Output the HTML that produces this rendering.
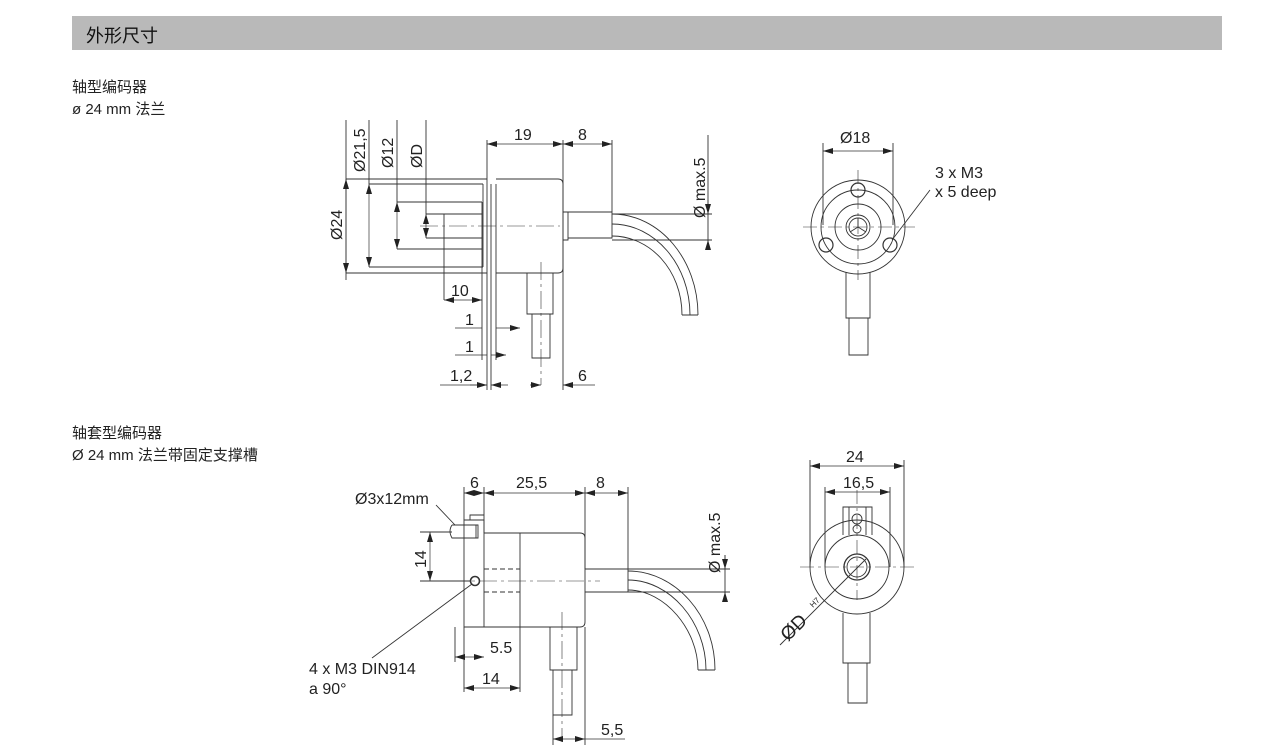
<!DOCTYPE html>
<html><head><meta charset="utf-8"><style>
body{margin:0;background:#fff;}
svg{display:block;font-family:"Liberation Sans","Noto Sans CJK SC",sans-serif;}
</style></head><body>
<svg width="1266" height="756" viewBox="0 0 1266 756" xmlns="http://www.w3.org/2000/svg">
<defs>
<marker id="a" viewBox="0 0 10 6" refX="10" refY="3" markerWidth="10" markerHeight="6" orient="auto-start-reverse" markerUnits="userSpaceOnUse"><path d="M0,0 L10,3 L0,6z" fill="#222"/></marker>
</defs>
<rect x="72" y="16" width="1150" height="34" fill="#b9b9b9"/>
<text x="86" y="42" font-size="18" fill="#111">外形尺寸</text>
<g font-size="15" fill="#222">
<text x="72" y="92">轴型编码器</text>
<text x="72" y="114">ø 24 mm 法兰</text>
<text x="72" y="438">轴套型编码器</text>
<text x="72" y="460">Ø 24 mm 法兰带固定支撑槽</text>
</g>
<g stroke="#333" stroke-width="0.9" fill="none">
<path d="M346,179 H487 M369,184 H483 M397,202 H482 M426,214 H444 M426,238 H444 M369,267 H483 M346,273 H487"/>
<path d="M482,202 V249 M397,249 H482 M487,179 V390 M491,184 V390 M496,184 V273 M483,184 V267"/>
<path d="M427,214 H482 M427,238 H482 M444,214 V300"/>
<path d="M496,179 H558 Q563,179 563,184 V268 Q563,273 558,273 H496"/>
<path d="M563,212 H568 V240 H563 M568,212 H612 V238 H568"/>
<path d="M612,214 C660,214 698,260 698,315 M612,224 C655,224 690,265 690,315 M612,236 C650,236 682,270 682,315 M682,315 H698"/>
<path d="M527,273 V314 H553 V273 M532,314 V358 H550 V314"/>
<path d="M420,226 H560" stroke-dasharray="18 4 3 4" stroke-width="0.6"/>
<path d="M541,262 V385" stroke-dasharray="18 4 3 4" stroke-width="0.6"/>
<path d="M563,140 V390 M612,140 V212 M487,140 V179 M346,120 V280 M369,120 V184 M397,120 V202 M426,120 V214 M708,135 V250 M612,240 H712 M612,214 H712 M482,249 V360 M496,273 V360"/>
<g stroke-width="0.7">
<path d="M346,179 V273" marker-start="url(#a)" marker-end="url(#a)"/>
<path d="M369,184 V267" marker-start="url(#a)" marker-end="url(#a)"/>
<path d="M397,202 V249" marker-start="url(#a)" marker-end="url(#a)"/>
<path d="M426,214 V238" marker-start="url(#a)" marker-end="url(#a)"/>
<path d="M487,144 H563" marker-start="url(#a)" marker-end="url(#a)"/>
<path d="M563,144 H612" marker-start="url(#a)" marker-end="url(#a)"/>
<path d="M444,300 H482" marker-start="url(#a)" marker-end="url(#a)"/>
<path d="M455,328 H482 M496,328 H520" marker-end="url(#a)"/>
<path d="M455,355 H487 M491,355 H506" marker-end="url(#a)"/>
<path d="M440,385 H487"/><path d="M470,385 H487" marker-end="url(#a)"/><path d="M508,385 H491" marker-end="url(#a)"/>
<path d="M530,385 H541" marker-end="url(#a)"/><path d="M595,385 H563" marker-end="url(#a)"/>
<path d="M708,200 V214" marker-end="url(#a)"/><path d="M708,250 V240" marker-end="url(#a)"/>
</g>
<circle cx="858" cy="227" r="47"/>
<circle cx="858" cy="227" r="37"/>
<circle cx="858" cy="227" r="23"/>
<circle cx="858" cy="227" r="12"/>
<circle cx="858" cy="227" r="9"/>
<circle cx="858" cy="190" r="7" stroke-width="1.2"/>
<circle cx="826" cy="245" r="7" stroke-width="1.2"/>
<circle cx="890" cy="245" r="7" stroke-width="1.2"/>
<path d="M858,227 V218 M858,227 L850,232 M858,227 L866,232"/>
<path d="M803,227 H915 M858,170 V280" stroke-dasharray="14 4 3 4" stroke-width="0.6"/>
<path d="M846,272 V318 H870 V272 M849,318 V355 H868 V318"/>
<path d="M823,143 V225 M893,143 V225"/>
<path d="M823,151 H893" stroke-width="0.7" marker-start="url(#a)" marker-end="url(#a)"/>
<path d="M930,190 L892,240"/>
<path d="M464,520 H484 V627 H464 Z M470,520 V515 H484 M476,525 V538"/>
<path d="M452,525 H478 V538 H452 Q448,531 452,525"/>
<path d="M484,533 H580 Q585,533 585,538 V622 Q585,627 580,627 H484 M520,533 V627"/>
<path d="M484,569 H520 M484,592 H520" stroke-dasharray="5 3"/>
<circle cx="475" cy="581" r="4.5" stroke-width="1.6"/>
<path d="M585,569 H628 V592 H585"/>
<path d="M628,571 C675,571 715,615 715,670 M628,580 C670,580 706,622 706,670 M628,590 C665,590 698,630 698,670 M698,670 H715"/>
<path d="M550,627 V670 H577 V627 M553,670 V715 H572 V670"/>
<path d="M450,581 H600" stroke-dasharray="18 4 3 4" stroke-width="0.6"/>
<path d="M562,612 V742" stroke-dasharray="18 4 3 4" stroke-width="0.6"/>
<path d="M464,487 V520 M484,487 V533 M585,487 V569 M628,487 V569 M420,532 H452 M420,581 H470 M725,555 V600 M628,569 H730 M628,592 H730 M455,627 V662 M464,627 V692 M520,627 V692 M585,627 V745 M553,715 V745"/>
<g stroke-width="0.7">
<path d="M464,493 H484" marker-start="url(#a)" marker-end="url(#a)"/>
<path d="M484,493 H585" marker-start="url(#a)" marker-end="url(#a)"/>
<path d="M585,493 H628" marker-start="url(#a)" marker-end="url(#a)"/>
<path d="M430,532 V581" marker-start="url(#a)" marker-end="url(#a)"/>
<path d="M455,657 H484" marker-start="url(#a)" marker-end="url(#a)"/>
<path d="M464,688 H520" marker-start="url(#a)" marker-end="url(#a)"/>
<path d="M553,739 H585" marker-start="url(#a)" marker-end="url(#a)"/>
<path d="M585,739 H625"/>
<path d="M725,555 V569" marker-end="url(#a)"/><path d="M725,600 V592" marker-end="url(#a)"/>
</g>
<path d="M472,584 L372,658 M455,525 L436,505"/>
<path d="M843,535 V507 H872 V535"/>
<path d="M849,507 V535 M866,507 V535"/>
<circle cx="857" cy="519" r="5"/><circle cx="857" cy="529" r="4"/>
<circle cx="857" cy="567" r="47"/>
<circle cx="857" cy="567" r="32"/>
<circle cx="857" cy="567" r="13" stroke-width="1.3"/>
<circle cx="857" cy="567" r="10"/>
<path d="M800,567 H915 M857,490 V600" stroke-dasharray="14 4 3 4" stroke-width="0.6"/>
<path d="M843,613 V663 H870 V613 M848,663 V703 H867 V663"/>
<path d="M780,645 L866,559"/>
<path d="M810,460 V567 M904,460 V567 M825,487 V567 M890,487 V567"/>
<path d="M810,466 H904" stroke-width="0.7" marker-start="url(#a)" marker-end="url(#a)"/>
<path d="M825,492 H890" stroke-width="0.7" marker-start="url(#a)" marker-end="url(#a)"/>
</g>
<g font-size="16" fill="#222">
<text x="514" y="140">19</text>
<text x="578" y="140">8</text>
<text x="451" y="296">10</text>
<text x="465" y="325">1</text>
<text x="465" y="352">1</text>
<text x="450" y="381">1,2</text>
<text x="578" y="381">6</text>
<text transform="translate(342,240) rotate(-90)">Ø24</text>
<text transform="translate(365,172) rotate(-90)">Ø21,5</text>
<text transform="translate(393,168) rotate(-90)">Ø12</text>
<text transform="translate(422,168) rotate(-90)">ØD</text>
<text transform="translate(705,218) rotate(-90)">Ø max.5</text>
<text x="840" y="143">Ø18</text>
<text x="935" y="178">3 x M3</text>
<text x="935" y="197">x  5 deep</text>
<text x="470" y="488">6</text>
<text x="516" y="488">25,5</text>
<text x="596" y="488">8</text>
<text x="355" y="504">Ø3x12mm</text>
<text transform="translate(426,568) rotate(-90)">14</text>
<text x="490" y="653">5.5</text>
<text x="482" y="684">14</text>
<text x="601" y="735">5,5</text>
<text transform="translate(720,573) rotate(-90)">Ø max.5</text>
<text x="309" y="674">4 x M3 DIN914</text>
<text x="309" y="694">a 90°</text>
<text x="846" y="462">24</text>
<text x="843" y="488">16,5</text>
<text transform="translate(788,642) rotate(-45)" font-size="19">ØD</text>
<text transform="translate(813,608) rotate(-45)" font-size="8">H7</text>
</g>
</svg>
</body></html>
